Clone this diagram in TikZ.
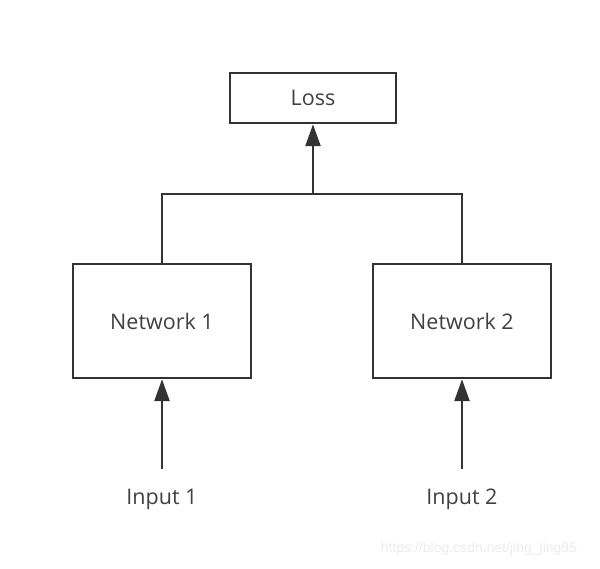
\documentclass[tikz,border=0pt]{standalone}
\usepackage{fontspec}
\setmainfont{Open Sans}
\newfontfamily\markfont{Liberation Sans}
\usetikzlibrary{arrows.meta,positioning,calc}

\begin{document}
\begin{tikzpicture}[x=1pt,y=-1pt,
		box/.style={draw=black!80,line width=2.4pt,fill=white,text=black!75,
			font=\fontsize{21.5}{24}\selectfont,inner sep=0pt},
		link/.style={draw=black!80,line width=2.4pt},
		feed/.style={link,-{Triangle[length=22pt,width=15pt]}}]
		\useasboundingbox (0,0) rectangle (600,568);
		\node [box,minimum width=166pt,minimum height=50pt] at (313,98) (loss) {Loss};
		\node [box,minimum width=178pt,minimum height=114pt] at (162,321) (net1) {Network 1};
		\node [box,minimum width=178pt,minimum height=114pt,right=119.6pt of net1] (net2) {Network 2};
		\node [text=black!75,font=\fontsize{21.5}{24}\selectfont] at ($(net1.south)+(0,120)$) (in1) {Input 1};
		\node [text=black!75,font=\fontsize{21.5}{24}\selectfont] at ($(net2.south)+(0,120)$) (in2) {Input 2};
		\coordinate (s1) at ($(net1.south)+(0,90)$);
		\coordinate (s2) at ($(net2.south)+(0,90)$);
		\coordinate (join) at ($(loss.south)+(0,70)$);
		%
		\draw [link] (net1.north) |- (join) -| (net2.north);
		\draw [feed] (join) -- (loss.south);
		\draw [feed] (s1) -- (net1.south);
		\draw [feed] (s2) -- (net2.south);
		%
		\node [text=black!8,font=\markfont\fontsize{14}{16}\selectfont] at (479,549) (mark) {https://blog.csdn.net/jing\_jing95};
	\end{tikzpicture}
\end{document}
